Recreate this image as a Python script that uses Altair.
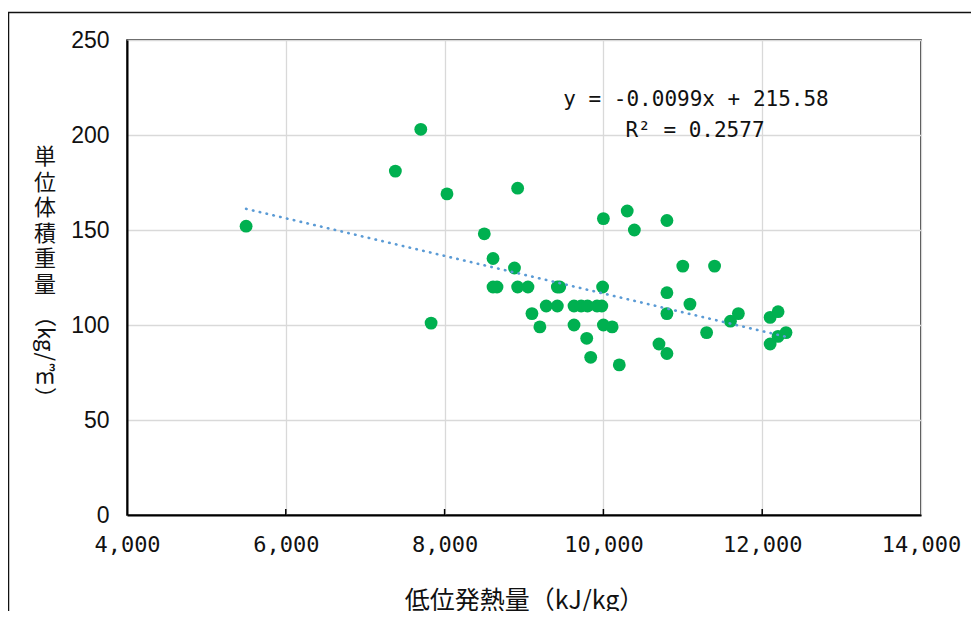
import altair as alt
import pandas as pd

# 低位発熱量 (kJ/kg)
heat = [5500, 7380, 7700, 7830, 8030, 8500, 8610, 8610, 8660, 8880,
        8920, 8920, 9050, 9100, 9200, 9280, 9420, 9420, 9450, 9630,
        9720, 9800, 9920, 9980, 9630, 9790, 9840, 9990, 10000, 10110,
        10200, 10000, 10300, 10390, 10800, 11000, 11400, 10800, 11090, 10800,
        10700, 10800, 11300, 11600, 11700, 12100, 12200, 12100, 12200, 12300]
# 単位体積重量 (kg/m3)
density = [152, 181, 203, 101, 169, 148, 135, 120, 120, 130,
           172, 120, 120, 106, 99, 110, 110, 120, 120, 110,
           110, 110, 110, 110, 100, 93, 83, 120, 100, 99,
           79, 156, 160, 150, 155, 131, 131, 117, 111, 106,
           90, 85, 96, 102, 106, 104, 107, 90, 94, 96]

slope = -0.0099
intercept = 215.58
r2 = 0.2577

x_ticks = [4000, 6000, 8000, 10000, 12000, 14000]
y_ticks = [0, 50, 100, 150, 200, 250]

eq_lines = ["y = -0.0099x + 215.58", "R² = 0.2577"]
x_title = "低位発熱量（kJ/kg）"
y_title_upright = "単位体積重量"

df = pd.DataFrame({"heat": heat, "density": density})
trend = pd.DataFrame({"heat": [min(heat), max(heat)]})
trend["density"] = slope * trend["heat"] + intercept
ticks_df = pd.DataFrame({"heat": x_ticks[1:-1]})
one = pd.DataFrame({"a": [0]})

W, H = 794, 475
CJK = "Noto Sans CJK JP"
MONO = "DejaVu Sans Mono"

xscale = alt.Scale(domain=[4000, 14000], nice=False)
yscale = alt.Scale(domain=[0, 250], nice=False)

xaxis = alt.Axis(values=x_ticks, format=",d", labelFont=MONO, labelFontSize=22,
                 labelColor="#111", labelPadding=19, labelFlush=False, title=x_title,
                 titleFont=CJK, titleFontSize=25, titleFontWeight="normal",
                 titleColor="#111", titlePadding=33)
yaxis = alt.Axis(values=y_ticks, labelFont="Liberation Sans", labelFontSize=23,
                 labelColor="#111", labelPadding=18, title=None)

frame = alt.Chart(one).mark_rect(fill="white", fillOpacity=0, stroke="#111",
                                 strokeWidth=1.5).encode(
    x=alt.value(-118.5), x2=alt.value(900), y=alt.value(-27.5), y2=alt.value(700))

points = alt.Chart(df).mark_circle(size=165, color="#00B050", opacity=1).encode(
    x=alt.X("heat:Q", scale=xscale, axis=xaxis),
    y=alt.Y("density:Q", scale=yscale, axis=yaxis),
)

xticks_in = alt.Chart(ticks_df).mark_rule(color="#000", strokeWidth=1.5).encode(
    x=alt.X("heat:Q", scale=xscale), y=alt.value(H - 6), y2=alt.value(H))

line = alt.Chart(trend).mark_line(color="#5B9BD5", strokeWidth=2.6,
                                  strokeDash=[0.5, 6.5], strokeCap="round").encode(
    x=alt.X("heat:Q", scale=xscale),
    y=alt.Y("density:Q", scale=yscale),
)

eq1 = alt.Chart(one).mark_text(font=MONO, fontSize=21, color="#111",
                               align="center", baseline="middle").encode(
    x=alt.value(569), y=alt.value(60), text=alt.value(eq_lines[0]))
eq2 = alt.Chart(one).mark_text(font=MONO, fontSize=21, color="#111",
                               align="center", baseline="middle").encode(
    x=alt.value(568), y=alt.value(91), text=alt.value(eq_lines[1]))

yt1 = alt.Chart(one).mark_text(font=CJK, fontSize=22, color="#111", lineBreak="\n",
                               lineHeight=25.6, align="center", baseline="middle").encode(
    x=alt.value(-82), y=alt.value(117), text=alt.value("\n".join(y_title_upright)))
yt2 = alt.Chart(one).mark_text(font=CJK, fontSize=22, color="#111", angle=90,
                               align="left", baseline="middle").encode(
    x=alt.value(-82), y=alt.value(265), text=alt.value("（kg/"))
yt3 = alt.Chart(one).mark_text(font=CJK, fontSize=22, color="#111",
                               align="center", baseline="middle").encode(
    x=alt.value(-82), y=alt.value(336), text=alt.value("㎥"))
yt4 = alt.Chart(one).mark_text(font=CJK, fontSize=22, color="#111", angle=90,
                               align="left", baseline="middle").encode(
    x=alt.value(-82), y=alt.value(347), text=alt.value("）"))

chart = alt.layer(frame, points, xticks_in, line, eq1, eq2, yt1, yt2, yt3, yt4).properties(
    width=W, height=H,
    autosize=alt.AutoSizeParams(type="none"),
    padding={"left": 119, "top": 32, "right": 50, "bottom": 96},
    background="white",
).configure_view(stroke="#111", strokeWidth=1.5).configure_axis(
    domainColor="#000", domainWidth=2, gridColor="#d9d9d9", gridWidth=1.3,
    ticks=False,
)

chart.save("out.html", embed_options={"renderer": "svg", "actions": False})
